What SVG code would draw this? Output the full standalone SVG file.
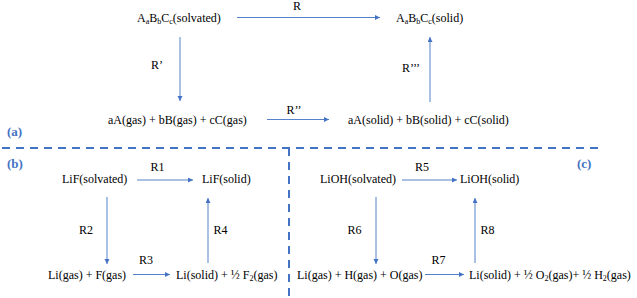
<svg xmlns="http://www.w3.org/2000/svg" width="637" height="298" viewBox="0 0 637 298" font-family="Liberation Serif, Times New Roman, serif">
<style>
text{font-size:12px;fill:#000}
.sub{font-size:8px}
.lbl{font-weight:bold;font-size:13px;fill:#4472C4}
.c{stroke:#4472C4;stroke-width:0.9;fill:none;marker-end:url(#ah)}
.sep{stroke:#4472C4;stroke-width:2;stroke-dasharray:8 6;fill:none}
</style>
<defs>
<marker id="ah" markerUnits="userSpaceOnUse" markerWidth="6" markerHeight="6" refX="5" refY="2.5" orient="auto">
<path d="M0,0 L5,2.5 L0,5 z" fill="#4472C4"/>
</marker>
</defs>
<rect width="637" height="298" fill="#fff"/>
<g id="separators">
<line class="sep" x1="2" y1="148" x2="599" y2="148"/>
<line class="sep" x1="289" y1="148" x2="289" y2="298"/>
</g>
<g id="panel-labels">
<text class="lbl" x="7" y="136">(a)</text>
<text class="lbl" x="7" y="168">(b)</text>
<text class="lbl" x="577" y="168">(c)</text>
</g>
<g id="connectors">
<line class="c" x1="237" y1="17.5" x2="380" y2="17.5"/>
<line class="c" x1="180" y1="37" x2="180" y2="101"/>
<line class="c" x1="267" y1="119.5" x2="329" y2="119.5"/>
<line class="c" x1="430" y1="102" x2="430" y2="37"/>
<line class="c" x1="137" y1="180" x2="193" y2="180"/>
<line class="c" x1="107" y1="197" x2="107" y2="264"/>
<line class="c" x1="133" y1="274.5" x2="170" y2="274.5"/>
<line class="c" x1="208" y1="263" x2="208" y2="198"/>
<line class="c" x1="402" y1="180" x2="457" y2="180"/>
<line class="c" x1="376" y1="197" x2="376" y2="264"/>
<line class="c" x1="425" y1="274.5" x2="464" y2="274.5"/>
<line class="c" x1="475" y1="263" x2="475" y2="198"/>
</g>
<g id="connector-labels">
<text x="297" y="10" text-anchor="middle">R</text>
<text x="157" y="69" text-anchor="middle">R’</text>
<text x="294" y="114" text-anchor="middle">R’’</text>
<text x="411" y="72" text-anchor="middle">R’’’</text>
<text x="157.5" y="171" text-anchor="middle">R1</text>
<text x="86" y="234" text-anchor="middle">R2</text>
<text x="146" y="264" text-anchor="middle">R3</text>
<text x="220.5" y="234" text-anchor="middle">R4</text>
<text x="422" y="171" text-anchor="middle">R5</text>
<text x="354.5" y="234" text-anchor="middle">R6</text>
<text x="438.5" y="264" text-anchor="middle">R7</text>
<text x="487.5" y="234" text-anchor="middle">R8</text>
</g>
<g id="n-abc-solvated">
<text x="137" y="21.5">A<tspan class="sub" dy="2">a</tspan><tspan dy="-2">B</tspan><tspan class="sub" dy="2">b</tspan><tspan dy="-2">C</tspan><tspan class="sub" dy="2">c</tspan><tspan dy="-2">(solvated)</tspan></text>
</g>
<g id="n-abc-solid">
<text x="396" y="21.5">A<tspan class="sub" dy="2">a</tspan><tspan dy="-2">B</tspan><tspan class="sub" dy="2">b</tspan><tspan dy="-2">C</tspan><tspan class="sub" dy="2">c</tspan><tspan dy="-2">(solid)</tspan></text>
</g>
<g id="n-abc-gas">
<text x="108" y="124">aA(gas) + bB(gas) + cC(gas)</text>
</g>
<g id="n-abc-elem-solid">
<text x="348" y="124">aA(solid)  + bB(solid) + cC(solid)</text>
</g>
<g id="n-lif-solvated">
<text x="62" y="183">LiF(solvated)</text>
</g>
<g id="n-lif-solid">
<text x="202" y="183">LiF(solid)</text>
</g>
<g id="n-li-f-gas">
<text x="48" y="279">Li(gas) + F(gas)</text>
</g>
<g id="n-li-f2">
<text x="176" y="279">Li(solid) + ½ F<tspan class="sub" dy="2">2</tspan><tspan dy="-2">(gas)</tspan></text>
</g>
<g id="n-lioh-solvated">
<text x="320" y="183">LiOH(solvated)</text>
</g>
<g id="n-lioh-solid">
<text x="460" y="183">LiOH(solid)</text>
</g>
<g id="n-li-h-o-gas">
<text x="297" y="279">Li(gas) + H(gas) + O(gas)</text>
</g>
<g id="n-li-o2-h2">
<text x="469" y="279">Li(solid)  + ½ O<tspan class="sub" dy="2">2</tspan><tspan dy="-2">(gas)+ ½ H</tspan><tspan class="sub" dy="2">2</tspan><tspan dy="-2">(gas)</tspan></text>
</g>
</svg>
